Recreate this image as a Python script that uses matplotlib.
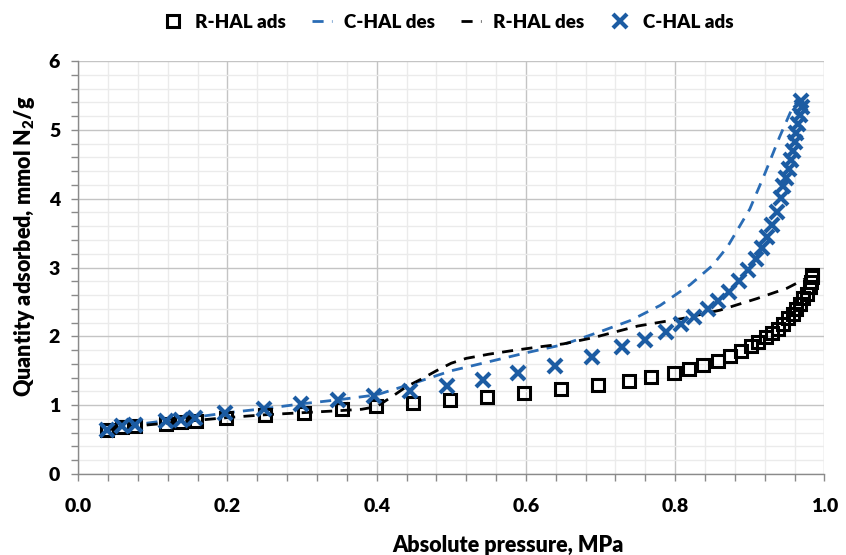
import numpy as np
import matplotlib
matplotlib.use("Agg")
import matplotlib.pyplot as plt
from matplotlib.ticker import MultipleLocator

plt.rcParams['font.family'] = ['Lato', 'DejaVu Sans']
plt.rcParams['font.weight'] = 'heavy'
plt.rcParams['mathtext.fontset'] = 'custom'
plt.rcParams['mathtext.rm'] = 'Lato:heavy'
plt.rcParams['mathtext.bf'] = 'Lato:heavy'

# R-HAL adsorption (squares)
r_ads_p = [0.038, 0.058, 0.076, 0.118, 0.138, 0.158, 0.198, 0.250, 0.302, 0.354,
           0.399, 0.448, 0.498, 0.548, 0.598, 0.647, 0.697, 0.738, 0.768, 0.798,
           0.819, 0.837, 0.857, 0.873, 0.888, 0.901, 0.911, 0.922, 0.930, 0.938,
           0.945, 0.951, 0.958, 0.962, 0.967, 0.971, 0.976, 0.980, 0.982, 0.984, 0.984]
r_ads_q = [0.64, 0.68, 0.70, 0.73, 0.75, 0.77, 0.81, 0.855, 0.89, 0.94,
           0.985, 1.03, 1.07, 1.12, 1.18, 1.23, 1.29, 1.35, 1.41, 1.47,
           1.53, 1.58, 1.64, 1.71, 1.79, 1.855, 1.92, 1.99, 2.05, 2.11,
           2.18, 2.26, 2.33, 2.40, 2.47, 2.55, 2.62, 2.71, 2.79, 2.86, 2.89]

# C-HAL adsorption (crosses)
c_ads_p = [0.038, 0.058, 0.076, 0.118, 0.138, 0.157, 0.197, 0.249, 0.299, 0.348,
           0.396, 0.445, 0.494, 0.542, 0.590, 0.639, 0.688, 0.729, 0.759, 0.788,
           0.808, 0.825, 0.844, 0.858, 0.872, 0.886, 0.897, 0.908, 0.916, 0.923,
           0.930, 0.936, 0.942, 0.945, 0.949, 0.952, 0.955, 0.958, 0.960, 0.962,
           0.965, 0.967, 0.970, 0.968]
c_ads_q = [0.64, 0.69, 0.71, 0.77, 0.79, 0.82, 0.88, 0.95, 1.01, 1.07,
           1.14, 1.21, 1.28, 1.36, 1.46, 1.57, 1.70, 1.84, 1.94, 2.07,
           2.18, 2.28, 2.40, 2.52, 2.65, 2.81, 2.97, 3.13, 3.28, 3.44,
           3.62, 3.81, 4.01, 4.18, 4.30, 4.43, 4.56, 4.70, 4.83, 4.95,
           5.09, 5.21, 5.33, 5.42]

# desorption branches (dashed)
r_des_p = [0.04, 0.06, 0.08, 0.12, 0.16, 0.20, 0.25, 0.30, 0.35, 0.38, 0.40, 0.42,
           0.44, 0.46, 0.48, 0.50, 0.52, 0.55, 0.58, 0.62, 0.65, 0.69, 0.75, 0.81,
           0.86, 0.91, 0.95, 0.975]
r_des_q = [0.64, 0.68, 0.70, 0.74, 0.78, 0.82, 0.86, 0.89, 0.92, 0.94, 0.98, 1.12,
           1.27, 1.38, 1.50, 1.61, 1.68, 1.74, 1.79, 1.85, 1.89, 1.98, 2.15, 2.26,
           2.38, 2.55, 2.70, 2.84]

c_des_p = [0.04, 0.06, 0.08, 0.12, 0.16, 0.20, 0.25, 0.30, 0.35, 0.40, 0.45, 0.50,
           0.55, 0.60, 0.65, 0.70, 0.74, 0.78, 0.82, 0.85, 0.87, 0.90, 0.92, 0.94,
           0.955, 0.962]
c_des_q = [0.65, 0.70, 0.72, 0.78, 0.83, 0.89, 0.95, 1.02, 1.08, 1.15, 1.32, 1.50,
           1.63, 1.76, 1.88, 2.07, 2.23, 2.45, 2.75, 3.03, 3.30, 3.85, 4.36, 4.90,
           5.27, 5.39]

BLUE = '#1c5ca3'

fig = plt.figure(figsize=(8.46, 5.55), dpi=100)
ax = fig.add_axes([0.0925, 0.146, 0.882, 0.744])

ax.plot(c_des_p, c_des_q, '--', color='#2a6cb5', lw=2, dashes=(4, 3), label='C-HAL des', zorder=3)
ax.plot(r_des_p, r_des_q, '--', color='black', lw=2, dashes=(4, 3), label='R-HAL des', zorder=3)
ax.plot(r_ads_p, r_ads_q, 's', ms=8.5, mfc='none', mec='black', mew=2.2,
        label='R-HAL ads', zorder=4)
ax.plot(c_ads_p, c_ads_q, 'x', ms=9.5, mec=BLUE, mew=3, label='C-HAL ads', zorder=5)

ax.set_xlim(0, 1.0)
ax.set_ylim(0, 6)
ax.xaxis.set_major_locator(MultipleLocator(0.2))
ax.xaxis.set_minor_locator(MultipleLocator(0.04))
ax.yaxis.set_major_locator(MultipleLocator(1))
ax.yaxis.set_minor_locator(MultipleLocator(0.2))
ax.xaxis.set_major_formatter(plt.FormatStrFormatter('%.1f'))

ax.grid(which='major', color='#c4c4c4', lw=1)
ax.grid(which='minor', color='#ebebeb', lw=1)
ax.set_axisbelow(True)

for s in ['top', 'right']:
    ax.spines[s].set_visible(False)
for s in ['left', 'bottom']:
    ax.spines[s].set_color('#8a8a8a')
    ax.spines[s].set_linewidth(1)

ax.tick_params(which='both', direction='out', color='#8a8a8a', length=5, width=1,
               labelsize=14)
ax.tick_params(axis='x', pad=12)
ax.tick_params(axis='y', pad=8)

fig.text(25 / 846, 1 - 246 / 555, 'Quantity adsorbed, mmol N$_\\mathrm{2}$/g',
         fontsize=15.5, fontweight='heavy', rotation=90, ha='center', va='center')
fig.text(508 / 846, 1 - 546 / 555, 'Absolute pressure, MPa', fontsize=15.5,
         fontweight='heavy', ha='center', va='center')

handles, labels = ax.get_legend_handles_labels()
order = [2, 0, 1, 3]
ax.legend([handles[i] for i in order], [labels[i] for i in order],
          loc='center', bbox_to_anchor=(448 / 846, 1 - 22 / 555),
          bbox_transform=fig.transFigure, ncol=4, frameon=False,
          fontsize=13.5, handlelength=1.1, columnspacing=1.35, handletextpad=0.65)

fig.savefig('out.png', dpi=100)
